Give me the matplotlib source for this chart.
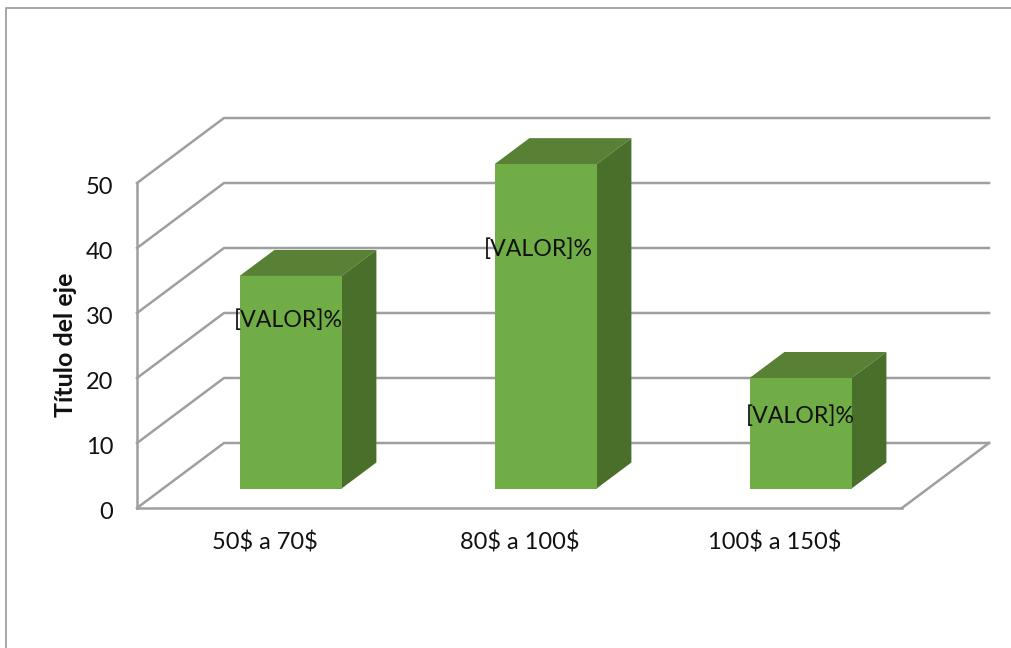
import matplotlib
matplotlib.use("Agg")
import matplotlib.pyplot as plt
from matplotlib.patches import Polygon
from matplotlib.lines import Line2D
from matplotlib.transforms import ScaledTranslation

# --- data ---
categories = ["50\\$ a 70\\$", "80\\$ a 100\\$", "100\\$ a 150\\$"]
values = [32.7, 49.9, 17]
y_ticks = [0, 10, 20, 30, 40, 50]
data_labels = ["[VALOR]%", "[VALOR]%", "[VALOR]%"]
y_title = "Título del eje"
label_heights = [25.9, 36.8, 11.1]
label_shift = [-0.01, -0.03, 0.0]

# --- style ---
W, H = 1012, 648
plt.rcParams["font.family"] = ["Lato", "DejaVu Sans"]
GRID = "#9f9f9f"
FRONT, TOP, SIDE = "#70ad47", "#588135", "#4a6f2b"
TXT = "#111111"
DEPTH_X = 87 / 255.0    # full floor depth, category units
DEPTH_Y = 10.0          # full floor depth, value units
BAR_W = 0.40
GAP_D = 0.30
BAR_D = 0.40

fig = plt.figure(figsize=(W / 100, H / 100), dpi=100, facecolor="white")
ax = fig.add_axes([137 / W, 1 - 508 / H, 765 / W, 325 / H])
ax.set_xlim(0, 3)
ax.set_ylim(0, 50)
for s in ax.spines.values():
    s.set_visible(False)
ax.patch.set_visible(False)


def proj(x, y, d):
    return x + d * DEPTH_X, y + d * DEPTH_Y


def line(xs, ys, z=1):
    ax.plot(xs, ys, color=GRID, lw=1.8, clip_on=False, zorder=z, solid_capstyle="projecting")


# walls and gridlines
for v in y_ticks:
    x0, y0 = proj(0, v, 0)
    x1, y1 = proj(0, v, 1)
    x2, y2 = proj(3, v, 1)
    line([x0, x1, x2], [y0, y1, y2])
line([0, 0], [0, y_ticks[-1]])
line([0, 3], [0, 0])
xa, ya = proj(3, 0, 1)
line([3, xa], [0, ya])

# 3-D bars
for i, v in enumerate(values):
    xc = i + 0.5
    xl, xr = xc - BAR_W / 2, xc + BAR_W / 2
    fl_b = proj(xl, 0, GAP_D); fr_b = proj(xr, 0, GAP_D)
    fl_t = proj(xl, v, GAP_D); fr_t = proj(xr, v, GAP_D)
    bl_t = proj(xl, v, GAP_D + BAR_D); br_t = proj(xr, v, GAP_D + BAR_D)
    br_b = proj(xr, 0, GAP_D + BAR_D)
    ax.add_patch(Polygon([fl_t, fr_t, br_t, bl_t], fc=TOP, ec="none", clip_on=False, zorder=3))
    ax.add_patch(Polygon([fr_b, br_b, br_t, fr_t], fc=SIDE, ec="none", clip_on=False, zorder=3))
    ax.add_patch(Polygon([fl_b, fr_b, fr_t, fl_t], fc=FRONT, ec="none", clip_on=False, zorder=4))
    lx, ly = proj(xc + label_shift[i], label_heights[i], GAP_D)
    ax.text(lx, ly, data_labels[i], ha="center", va="center", fontsize=16.7,
            color=TXT, zorder=5, clip_on=False)

ax.set_xticks([i + 0.5 for i in range(len(categories))], categories)
ax.set_yticks(y_ticks)
ax.tick_params(axis="both", length=0, labelsize=17, labelcolor=TXT)
ax.tick_params(axis="x", pad=17)
ax.tick_params(axis="y", pad=17)
down = ScaledTranslation(0, -2 / 72, fig.dpi_scale_trans)
for lab in ax.get_yticklabels():
    lab.set_transform(lab.get_transform() + down)
ax.set_ylabel(y_title, fontsize=18, fontweight="bold", color=TXT)
ax.yaxis.set_label_coords((77 - 137) / 765, (508 - 345) / 325)

# chart-area border (open on the right/bottom)
fig.add_artist(Line2D([6.5 / W, 6.5 / W, 1], [0, 1 - 8 / H, 1 - 8 / H], color="#a6a6a6", lw=1.4))

fig.savefig("out.png", dpi=100, facecolor="white")
